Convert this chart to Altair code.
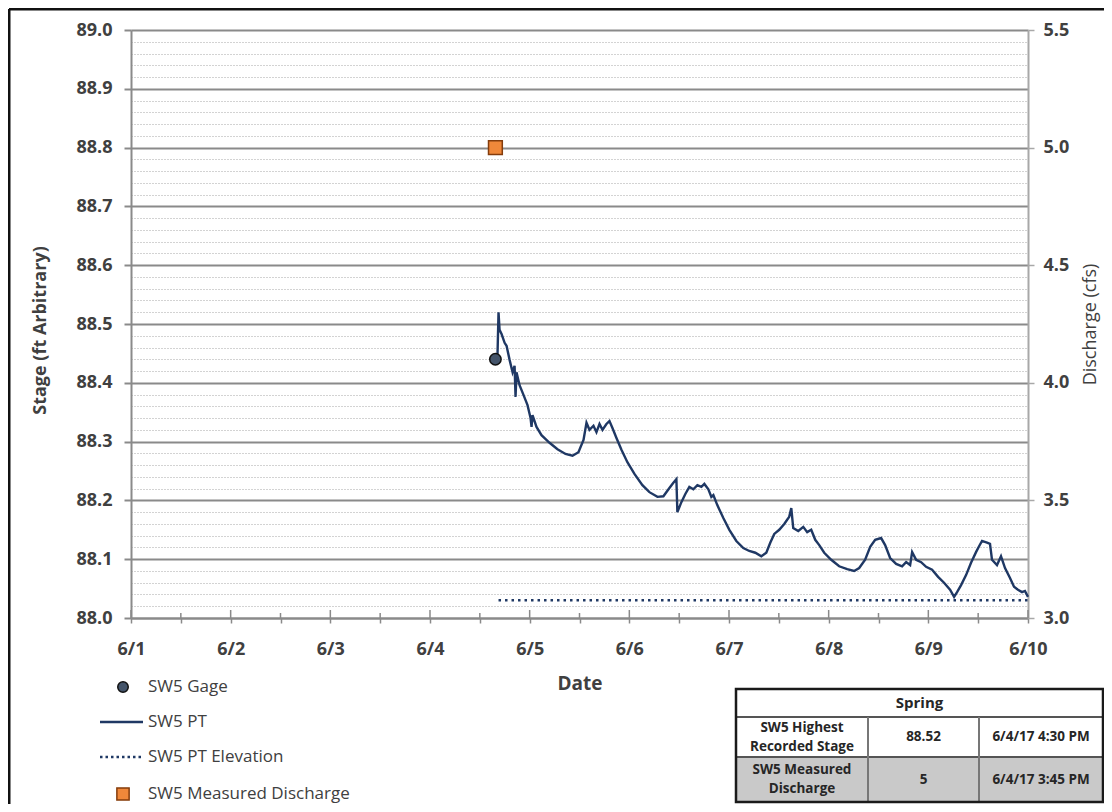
import altair as alt
import pandas as pd

# ---------------- data ----------------
pt_time = [
    "2017-06-04 16:15", "2017-06-04 16:30", "2017-06-04 16:45", "2017-06-04 17:14", "2017-06-04 17:58",
    "2017-06-04 18:26", "2017-06-04 19:10", "2017-06-04 19:53", "2017-06-04 20:22", "2017-06-04 20:36",
    "2017-06-04 20:50", "2017-06-04 21:34", "2017-06-04 22:32", "2017-06-04 23:29", "2017-06-05 00:13",
    "2017-06-05 00:27", "2017-06-05 00:41", "2017-06-05 01:39", "2017-06-05 02:51", "2017-06-05 04:47",
    "2017-06-05 06:42", "2017-06-05 08:38", "2017-06-05 10:19", "2017-06-05 11:45", "2017-06-05 12:58",
    "2017-06-05 13:41", "2017-06-05 14:24", "2017-06-05 15:22", "2017-06-05 16:05", "2017-06-05 16:49",
    "2017-06-05 17:32", "2017-06-05 18:29", "2017-06-05 19:13", "2017-06-05 19:56", "2017-06-05 20:54",
    "2017-06-05 22:06", "2017-06-05 23:32", "2017-06-06 01:14", "2017-06-06 03:09", "2017-06-06 04:50",
    "2017-06-06 06:46", "2017-06-06 08:12", "2017-06-06 09:39", "2017-06-06 10:36", "2017-06-06 11:20",
    "2017-06-06 11:34", "2017-06-06 12:32", "2017-06-06 13:29", "2017-06-06 14:27", "2017-06-06 15:25",
    "2017-06-06 16:23", "2017-06-06 17:21", "2017-06-06 18:04", "2017-06-06 19:02", "2017-06-06 19:45",
    "2017-06-06 20:14", "2017-06-06 21:11", "2017-06-06 22:38", "2017-06-07 00:05", "2017-06-07 01:46",
    "2017-06-07 03:27", "2017-06-07 04:53", "2017-06-07 06:20", "2017-06-07 07:47", "2017-06-07 08:59",
    "2017-06-07 09:56", "2017-06-07 10:54", "2017-06-07 12:06", "2017-06-07 13:18", "2017-06-07 14:00",
    "2017-06-07 14:30", "2017-06-07 15:00", "2017-06-07 15:28", "2017-06-07 16:41", "2017-06-07 17:53",
    "2017-06-07 18:50", "2017-06-07 19:48", "2017-06-07 20:46", "2017-06-07 21:44", "2017-06-07 22:56",
    "2017-06-08 00:37", "2017-06-08 02:32", "2017-06-08 04:28", "2017-06-08 06:08", "2017-06-08 07:21",
    "2017-06-08 08:47", "2017-06-08 10:00", "2017-06-08 11:12", "2017-06-08 12:38", "2017-06-08 13:36",
    "2017-06-08 14:48", "2017-06-08 16:15", "2017-06-08 17:41", "2017-06-08 18:39", "2017-06-08 19:37",
    "2017-06-08 20:06", "2017-06-08 21:04", "2017-06-08 22:16", "2017-06-08 23:28", "2017-06-09 00:54",
    "2017-06-09 02:21", "2017-06-09 03:47", "2017-06-09 05:14", "2017-06-09 06:12", "2017-06-09 06:55",
    "2017-06-09 07:53", "2017-06-09 09:05", "2017-06-09 10:17", "2017-06-09 11:29", "2017-06-09 12:13",
    "2017-06-09 12:56", "2017-06-09 14:08", "2017-06-09 14:51", "2017-06-09 15:20", "2017-06-09 16:32",
    "2017-06-09 17:30", "2017-06-09 18:28", "2017-06-09 19:40", "2017-06-09 20:38", "2017-06-09 21:35",
    "2017-06-09 22:33", "2017-06-09 23:16", "2017-06-10 00:00",
]
pt_stage = [
    88.446, 88.520, 88.490, 88.483, 88.468,
    88.463, 88.439, 88.418, 88.429, 88.376,
    88.418, 88.396, 88.379, 88.362, 88.340,
    88.325, 88.345, 88.325, 88.311, 88.298,
    88.287, 88.279, 88.276, 88.282, 88.303,
    88.332, 88.320, 88.327, 88.316, 88.330,
    88.320, 88.330, 88.335, 88.323, 88.306,
    88.286, 88.265, 88.245, 88.226, 88.214,
    88.206, 88.207, 88.221, 88.230, 88.236,
    88.180, 88.197, 88.211, 88.223, 88.219,
    88.226, 88.223, 88.228, 88.219, 88.206,
    88.209, 88.192, 88.170, 88.150, 88.131,
    88.119, 88.114, 88.111, 88.105, 88.111,
    88.128, 88.143, 88.150, 88.160, 88.167,
    88.172, 88.187, 88.153, 88.148, 88.155,
    88.146, 88.150, 88.133, 88.124, 88.111,
    88.099, 88.088, 88.083, 88.080, 88.085,
    88.099, 88.121, 88.133, 88.136, 88.124,
    88.102, 88.092, 88.088, 88.095, 88.090,
    88.112, 88.099, 88.095, 88.087, 88.082,
    88.070, 88.060, 88.048, 88.036, 88.044,
    88.056, 88.073, 88.094, 88.112, 88.122,
    88.131, 88.128, 88.126, 88.099, 88.090,
    88.105, 88.085, 88.068, 88.053, 88.048,
    88.044, 88.046, 88.036,
]
gage_time = ["2017-06-04 15:45"]
gage_stage = [88.44]
elev_time = ["2017-06-04 16:30", "2017-06-10 00:00"]
elev_stage = [88.03, 88.03]
q_time = ["2017-06-04 15:45"]
q_cfs = [5.0]

stage_ticks = [round(88.0 + 0.02 * i, 2) for i in range(51)]
cfs_ticks = [3.0, 3.5, 4.0, 4.5, 5.0, 5.5]
day_ticks = ["2017-06-%02d 00:00" % d for d in range(1, 11)]
halfday_ticks = ["2017-06-%02d 12:00" % d for d in range(1, 10)]

legend_labels = ["SW5 Gage", "SW5 PT", "SW5 PT Elevation", "SW5 Measured Discharge"]
table_header = "Spring"
table_row_labels = [["SW5 Highest", "Recorded Stage"], ["SW5 Measured", "Discharge"]]
table_values = ["88.52", "5"]
table_dates = ["6/4/17 4:30 PM", "6/4/17 3:45 PM"]

# ---------------- frames ----------------
pt_df = pd.DataFrame({"time": pd.to_datetime(pt_time), "stage": pt_stage})
gage_df = pd.DataFrame({"time": pd.to_datetime(gage_time), "stage": gage_stage})
elev_df = pd.DataFrame({"time": pd.to_datetime(elev_time), "stage": elev_stage})
q_df = pd.DataFrame({"time": pd.to_datetime(q_time), "q": q_cfs})
day_df = pd.DataFrame({"time": pd.to_datetime(day_ticks)})
half_df = pd.DataFrame({"time": pd.to_datetime(halfday_ticks)})
one = pd.DataFrame({"k": [0]})

FONT = "Open Sans"
AX = "#8a8a8a"
TXT = "#404040"
NAVY = "#1f3864"
W, H = 897, 588

x_values = [alt.DateTime(year=2017, month=6, date=d, hours=h)
            for d in range(1, 11) for h in (0, 12) if not (d == 10 and h == 12)]

x_enc = alt.X(
    "time:T",
    scale=alt.Scale(domain=[alt.DateTime(year=2017, month=6, date=1, hours=0),
                            alt.DateTime(year=2017, month=6, date=10, hours=0)]),
    axis=alt.Axis(
        values=x_values,
        labelExpr="hours(datum.value) == 0 ? timeFormat(datum.value, '%-m/%-d') : ''",
        grid=False, tickSize=5, tickColor=AX, tickWidth=1.5,
        domainColor=AX, domainWidth=2,
        labelFont=FONT, labelFontSize=18, labelFontWeight="bold", labelColor=TXT,
        labelPadding=17, labelOverlap=False, labelFlush=False,
        title="Date", titleFont=FONT, titleFontSize=19, titleFontWeight="bold",
        titleColor=TXT, titlePadding=16,
    ),
)

major = "abs(datum.value * 10 - round(datum.value * 10)) < 0.01"
y_enc = alt.Y(
    "stage:Q",
    scale=alt.Scale(domain=[88.0, 89.0], nice=False, zero=False),
    axis=alt.Axis(
        values=stage_ticks,
        labelExpr=major + " ? format(datum.value, '.1f') : ''",
        grid=True,
        gridColor={"condition": {"test": major, "value": "#8a8a8a"}, "value": "#a6a6a6"},
        gridWidth={"condition": {"test": major, "value": 2}, "value": 1},
        gridDash={"condition": {"test": major, "value": []}, "value": [1, 2]},
        tickColor={"condition": {"test": major, "value": "#8a8a8a"}, "value": "transparent"},
        tickSize=7, tickWidth=2,
        domainColor=AX, domainWidth=2,
        labelFont=FONT, labelFontSize=18, labelFontWeight="bold", labelColor=TXT,
        labelPadding=12, labelOverlap=False, labelFlush=False,
        title="Stage (ft Arbitrary)", titleFont=FONT, titleFontSize=18, titleFontWeight="bold",
        titleColor=TXT, titleAngle=270, titleX=-91, titleY=300,
        titleAlign="center", titleBaseline="middle",
    ),
)

pt_line = alt.Chart(pt_df).mark_line(color=NAVY, strokeWidth=2.4).encode(x=x_enc, y=y_enc)
elev_line = alt.Chart(elev_df).mark_line(color=NAVY, strokeWidth=2.5, strokeDash=[2.5, 4]).encode(x=x_enc, y=y_enc)
gage_pt = alt.Chart(gage_df).mark_circle(size=130, color="#44546a", stroke="#111111",
                                         strokeWidth=1.5, opacity=1).encode(x=x_enc, y=y_enc)

q_pt = alt.Chart(q_df).mark_square(size=190, color="#f0883a", stroke="#843c0c",
                                   strokeWidth=1.5, opacity=1).encode(
    x=x_enc,
    y=alt.Y("q:Q", scale=alt.Scale(domain=[3.0, 5.5], nice=False, zero=False),
            axis=alt.Axis(orient="right", values=cfs_ticks, format=".1f", grid=False,
                          tickSize=6, tickColor="#a8a8a8", tickWidth=1.5,
                          domainColor="#a8a8a8", domainWidth=2,
                          labelFont=FONT, labelFontSize=18, labelFontWeight="bold",
                          labelColor=TXT, labelPadding=9,
                          title="Discharge (cfs)", titleFont=FONT, titleFontSize=18,
                          titleFontWeight="normal", titleColor=TXT, titleAngle=270,
                          titleX=62, titleY=294, titleAlign="center", titleBaseline="middle")),
)

# inner halves of the x-axis cross ticks
day_in = alt.Chart(day_df).mark_rule(color=AX, strokeWidth=1.5).encode(
    x=x_enc, y=alt.value(H - 8), y2=alt.value(H))
half_in = alt.Chart(half_df).mark_rule(color=AX, strokeWidth=1.5).encode(
    x=x_enc, y=alt.value(H - 5), y2=alt.value(H))


def rule(x, x2, y, y2, color, width, dash=None):
    kw = dict(color=color, strokeWidth=width)
    if dash:
        kw["strokeDash"] = dash
    return alt.Chart(one).mark_rule(**kw).encode(
        x=alt.value(x), x2=alt.value(x2), y=alt.value(y), y2=alt.value(y2))


def txt(s, x, y, size=14, weight="bold", align="center", color="#262626"):
    return alt.Chart(one).mark_text(text=s, font=FONT, fontSize=size, fontWeight=weight,
                                    align=align, baseline="middle", color=color).encode(
        x=alt.value(x), y=alt.value(y))


# ---------------- legend ----------------
LX = 17
leg = [
    alt.Chart(one).mark_circle(size=110, color="#44546a", stroke="#111111", strokeWidth=1.5,
                               opacity=1).encode(x=alt.value(-8), y=alt.value(657)),
    txt(legend_labels[0], LX, 657, 17, "normal", "left", TXT),
    rule(-31, 12, 692, 692, NAVY, 2.4),
    txt(legend_labels[1], LX, 692, 17, "normal", "left", TXT),
    rule(-31, 12, 727, 727, NAVY, 2.5, [2.5, 3]),
    txt(legend_labels[2], LX, 727, 17, "normal", "left", TXT),
    alt.Chart(one).mark_square(size=150, color="#f0883a", stroke="#843c0c", strokeWidth=1.5,
                               opacity=1).encode(x=alt.value(-8), y=alt.value(764)),
    txt(legend_labels[3], LX, 764, 17, "normal", "left", TXT),
]

# ---------------- table ----------------
TX0, TX1, TX2, TX3 = 605, 737, 848, 972
TY0, TY1, TY2, TY3 = 659, 687, 727, 772
tab = [
    alt.Chart(one).mark_rect(color="#c9c9c9").encode(
        x=alt.value(TX0), x2=alt.value(TX3), y=alt.value(TY2), y2=alt.value(TY3)),
    rule(TX0, TX3, TY1, TY1, "#555555", 2),
    rule(TX0, TX3, TY2, TY2, "#555555", 2),
    rule(TX1, TX1, TY1, TY3, "#777777", 2),
    rule(TX2, TX2, TY1, TY3, "#777777", 2),
    alt.Chart(one).mark_rect(fillOpacity=0, stroke="#1a1a1a", strokeWidth=2.5).encode(
        x=alt.value(TX0), x2=alt.value(TX3), y=alt.value(TY0), y2=alt.value(TY3)),
    txt(table_header, (TX0 + TX3) / 2, (TY0 + TY1) / 2, 15),
    txt(table_row_labels[0][0], (TX0 + TX1) / 2, 698, 13.5),
    txt(table_row_labels[0][1], (TX0 + TX1) / 2, 717, 13.5),
    txt(table_values[0], (TX1 + TX2) / 2, (TY1 + TY2) / 2, 13.5),
    txt(table_dates[0], (TX2 + TX3) / 2, (TY1 + TY2) / 2, 13.5),
    txt(table_row_labels[1][0], (TX0 + TX1) / 2, 740, 13.5),
    txt(table_row_labels[1][1], (TX0 + TX1) / 2, 759, 13.5),
    txt(table_values[1], (TX1 + TX2) / 2, (TY2 + TY3) / 2, 13.5),
    txt(table_dates[1], (TX2 + TX3) / 2, (TY2 + TY3) / 2, 13.5),
]

# ---------------- outer frame ----------------
frame = [
    rule(-122, 973, -21, -21, "#111111", 3),
    rule(-122, -122, -21, 774, "#111111", 3),
]

stage_layer = alt.layer(pt_line, elev_line, gage_pt, day_in, half_in, *leg, *tab, *frame)

chart = alt.layer(stage_layer, q_pt).resolve_scale(y="independent").properties(
    width=W, height=H,
    autosize=alt.AutoSizeParams(type="none"),
    padding={"left": 123, "top": 22, "right": 76, "bottom": 186},
    background="white",
).configure_view(stroke=None)

chart.save("out.html", embed_options={"renderer": "svg", "actions": False})
